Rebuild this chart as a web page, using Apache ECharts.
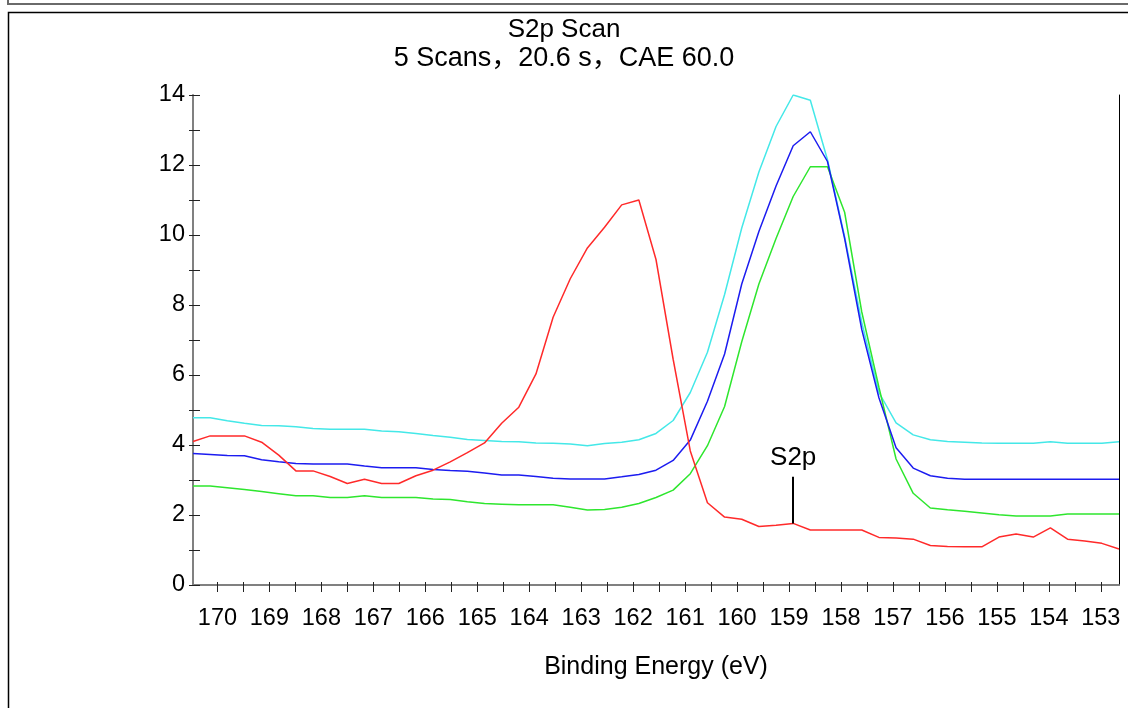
<!DOCTYPE html>
<html>
<head>
<meta charset="utf-8">
<title>S2p Scan</title>
<script src="https://cdn.jsdelivr.net/npm/echarts@6/dist/echarts.min.js"></script>
<style>
  html, body { margin: 0; padding: 0; background: #fff; }
  #chart { width: 1128px; height: 708px; }
</style>
</head>
<body>
<div id="chart"></div>
<script>
// binding energy grid (eV), high -> low as scanned
var energy = [
  170.47, 170.14, 169.81, 169.48, 169.15, 168.82, 168.49, 168.16, 167.83, 167.50,
  167.17, 166.84, 166.51, 166.18, 165.85, 165.52, 165.19, 164.86, 164.53, 164.20,
  163.87, 163.54, 163.21, 162.88, 162.55, 162.22, 161.89, 161.56, 161.23, 160.90,
  160.57, 160.24, 159.91, 159.58, 159.25, 158.92, 158.59, 158.26, 157.93, 157.60,
  157.27, 156.94, 156.61, 156.28, 155.95, 155.62, 155.29, 154.96, 154.63, 154.30,
  153.97, 153.64, 153.31, 152.98, 152.65
];

var redCounts = [
  4.10, 4.26, 4.26, 4.26, 4.08, 3.71, 3.26, 3.26, 3.10, 2.90,
  3.02, 2.90, 2.90, 3.12, 3.28, 3.52, 3.78, 4.06, 4.62, 5.08,
  6.03, 7.65, 8.75, 9.63, 10.22, 10.86, 11.00, 9.30, 6.45, 3.83,
  2.35, 1.94, 1.88, 1.67, 1.71, 1.76, 1.57, 1.57, 1.57, 1.57,
  1.36, 1.34, 1.31, 1.13, 1.10, 1.09, 1.09, 1.37, 1.46, 1.37,
  1.63, 1.31, 1.26, 1.19, 1.03
];

var cyanCounts = [
  4.78, 4.78, 4.69, 4.62, 4.56, 4.55, 4.52, 4.47, 4.45, 4.45,
  4.45, 4.40, 4.38, 4.33, 4.27, 4.22, 4.16, 4.13, 4.10, 4.09,
  4.06, 4.05, 4.03, 3.98, 4.04, 4.08, 4.15, 4.33, 4.70, 5.50,
  6.65, 8.30, 10.20, 11.80, 13.10, 14.00, 13.85, 12.15, 9.95, 7.50,
  5.50, 4.63, 4.29, 4.15, 4.10, 4.08, 4.06, 4.05, 4.05, 4.05,
  4.09, 4.05, 4.05, 4.05, 4.09
];

var blueCounts = [
  3.76, 3.73, 3.70, 3.69, 3.58, 3.52, 3.47, 3.46, 3.46, 3.46,
  3.40, 3.35, 3.35, 3.35, 3.30, 3.27, 3.25, 3.20, 3.14, 3.14,
  3.10, 3.05, 3.03, 3.03, 3.03, 3.09, 3.16, 3.28, 3.56, 4.14,
  5.25, 6.60, 8.60, 10.10, 11.40, 12.55, 12.95, 12.10, 9.90, 7.30,
  5.35, 3.92, 3.34, 3.12, 3.05, 3.02, 3.02, 3.02, 3.02, 3.02,
  3.02, 3.02, 3.02, 3.02, 3.02
];

var greenCounts = [
  2.83, 2.83, 2.78, 2.73, 2.67, 2.61, 2.55, 2.55, 2.50, 2.50,
  2.55, 2.50, 2.50, 2.50, 2.46, 2.44, 2.38, 2.33, 2.31, 2.29,
  2.29, 2.29, 2.22, 2.14, 2.16, 2.22, 2.33, 2.50, 2.71, 3.18,
  3.98, 5.10, 6.95, 8.60, 9.90, 11.10, 11.95, 11.95, 10.65, 7.80,
  5.65, 3.60, 2.62, 2.20, 2.15, 2.11, 2.06, 2.01, 1.97, 1.97,
  1.97, 2.03, 2.03, 2.03, 2.03
];

// axis labels
var energyLabels = [170, 169, 168, 167, 166, 165, 164, 163, 162, 161, 160, 159, 158, 157, 156, 155, 154, 153];
var countLabels = [0, 2, 4, 6, 8, 10, 12, 14];
var countTicks = [0, 1, 2, 3, 4, 5, 6, 7, 8, 9, 10, 11, 12, 13, 14];

// peak annotation
var peakName = 'S2p';
var peakEnergy = 158.92;
var peakTop = 3.09;

var xMin = 152.65, xMax = 170.47;
var energyTicks = energyLabels.flatMap(function (v) { return [v, v + 0.5]; })
  .filter(function (v) { return v <= xMax && v >= xMin; });

function pairs(vals) {
  return energy.map(function (e, i) { return [e, vals[i]]; });
}

var font = "'Liberation Sans', 'Noto Sans CJK SC', Arial, sans-serif";

var chart = echarts.init(document.getElementById('chart'));

var xBase = {
  type: 'value', inverse: true, min: xMin, max: xMax,
  gridIndex: 0, splitLine: { show: false }
};
var yBase = {
  type: 'value', min: 0, max: 14, gridIndex: 0, splitLine: { show: false }
};

var option = {
  animation: false,
  backgroundColor: '#ffffff',
  textStyle: { fontFamily: font },
  title: [
    {
      text: 'S2p Scan', left: 'center', top: 17, padding: 0,
      textStyle: { fontFamily: font, fontSize: 26, fontWeight: 'normal', color: '#000' }
    },
    {
      text: '5 Scans，20.6 s，CAE 60.0', left: 'center', top: 45, padding: 0,
      textStyle: { fontFamily: font, fontSize: 27, fontWeight: 'normal', color: '#000' }
    }
  ],
  graphic: [
    {
      type: 'rect', silent: true,
      shape: { x: 8, y: -20, width: 1200, height: 24 },
      style: { fill: 'none', stroke: '#6a6a6a', lineWidth: 2 }
    },
    {
      type: 'rect', silent: true,
      shape: { x: 8.5, y: 12.5, width: 1200, height: 800 },
      style: { fill: 'none', stroke: '#000', lineWidth: 1.5 }
    }
  ],
  grid: { left: 193, top: 95, right: 9, bottom: 123, containLabel: false },
  xAxis: [
    Object.assign({}, xBase, {
      position: 'bottom',
      name: 'Binding Energy (eV)', nameLocation: 'middle', nameGap: 70,
      nameTextStyle: { fontFamily: font, fontSize: 25, color: '#000' },
      axisLine: { show: true, lineStyle: { color: '#808080', width: 2 } },
      axisTick: { show: true, length: 7, customValues: energyTicks, lineStyle: { color: '#222' } },
      axisLabel: {
        show: true, customValues: energyLabels, margin: 22,
        fontFamily: font, fontSize: 23.5, color: '#000'
      }
    }),
    Object.assign({}, xBase, {
      position: 'bottom',
      axisLine: { show: false },
      axisTick: { show: true, inside: true, length: 3, customValues: energyTicks, lineStyle: { color: '#222' } },
      axisLabel: { show: false }
    }),
    Object.assign({}, xBase, {
      position: 'top',
      axisLine: { show: true, lineStyle: { color: '#808080', width: 1 } },
      axisTick: { show: false },
      axisLabel: { show: false }
    })
  ],
  yAxis: [
    Object.assign({}, yBase, {
      position: 'left',
      axisLine: { show: true, lineStyle: { color: '#808080', width: 2 } },
      axisTick: { show: true, inside: true, length: 7, customValues: countTicks, lineStyle: { color: '#222' } },
      axisLabel: {
        show: true, customValues: countLabels, margin: 8, padding: [6, 0, 0, 0],
        fontFamily: font, fontSize: 23.5, color: '#000'
      }
    }),
    Object.assign({}, yBase, {
      position: 'left',
      axisLine: { show: false },
      axisTick: { show: true, length: 4, customValues: countTicks, lineStyle: { color: '#222' } },
      axisLabel: { show: false }
    }),
    Object.assign({}, yBase, {
      position: 'right',
      axisLine: { show: true, lineStyle: { color: '#000', width: 1 } },
      axisTick: { show: false },
      axisLabel: { show: false }
    })
  ],
  series: [
    {
      name: 'cyan', type: 'line', xAxisIndex: 0, yAxisIndex: 0,
      data: pairs(cyanCounts), showSymbol: false,
      lineStyle: { color: '#44e8e8', width: 1.5 }
    },
    {
      name: 'green', type: 'line', xAxisIndex: 0, yAxisIndex: 0,
      data: pairs(greenCounts), showSymbol: false,
      lineStyle: { color: '#2ee62e', width: 1.5 }
    },
    {
      name: 'blue', type: 'line', xAxisIndex: 0, yAxisIndex: 0,
      data: pairs(blueCounts), showSymbol: false,
      lineStyle: { color: '#1c1cf0', width: 1.5 }
    },
    {
      name: 'red', type: 'line', xAxisIndex: 0, yAxisIndex: 0,
      data: pairs(redCounts), showSymbol: false,
      lineStyle: { color: '#ff2a2a', width: 1.5 },
      markLine: {
        silent: true, symbol: ['none', 'none'], animation: false,
        lineStyle: { color: '#000', width: 2, type: 'solid' },
        label: {
          show: true, position: 'end', distance: 6, formatter: peakName,
          fontFamily: font, fontSize: 26, color: '#000'
        },
        data: [[
          { coord: [peakEnergy, redCounts[energy.indexOf(peakEnergy)]] },
          { coord: [peakEnergy, peakTop] }
        ]]
      }
    }
  ]
};

chart.setOption(option);
</script>
</body>
</html>
